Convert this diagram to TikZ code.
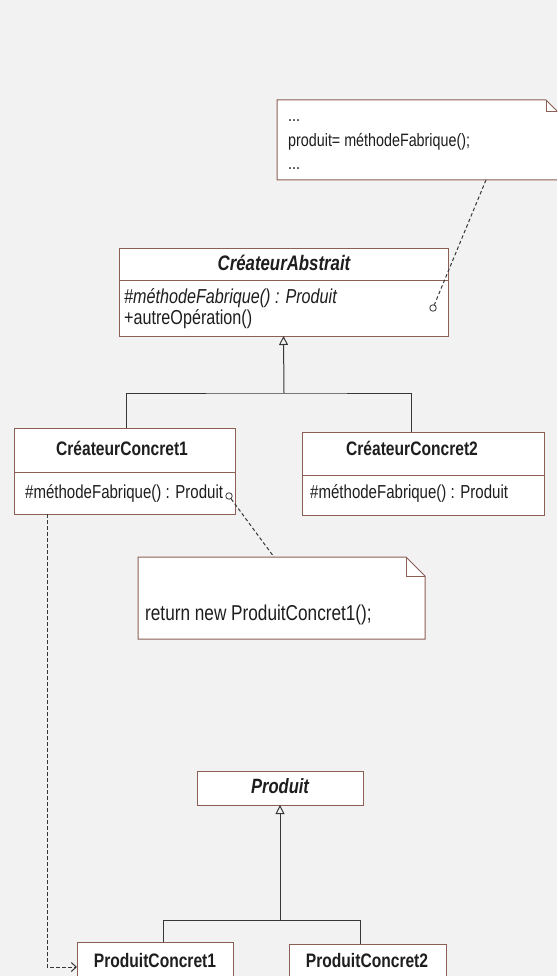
\documentclass[tikz,border=0pt]{standalone}
\usepackage{fontspec}
\setmainfont{Liberation Sans}[FakeStretch=0.8]
\usetikzlibrary{arrows.meta}
\definecolor{bgc}{RGB}{241,242,241}
\definecolor{boxc}{RGB}{140,95,85}
\definecolor{linec}{RGB}{55,55,55}
\definecolor{txtc}{RGB}{30,30,30}
\begin{document}
\begin{tikzpicture}[x=1pt,y=-1pt,
  box/.style={draw=boxc, fill=white, line width=1pt, anchor=north west, inner sep=0pt, outer sep=0pt},
  notebox/.style={draw=none, fill=none, anchor=north west, inner sep=0pt, outer sep=0pt},
  divline/.style={draw=boxc, line width=1pt},
  conn/.style={draw=linec, line width=1pt},
  dep/.style={draw=linec, line width=1pt, dash pattern=on 3.5pt off 2.5pt},
  anchorcirc/.style={draw=linec, line width=0.8pt, circle, inner sep=0pt, minimum size=6.5pt},
  ttl/.style={font=\fontsize{19.5}{21}\selectfont\bfseries, text=txtc, inner sep=0pt, anchor=base},
  mem/.style={font=\fontsize{18.8}{21}\selectfont, text=txtc, inner sep=0pt, anchor=base west},
  gen/.style={conn, -{Triangle[open, width=9pt, length=9pt, line width=1pt]}},
  ]
\useasboundingbox[fill=bgc] (0,0) rectangle (557,976);
\clip (0,0) rectangle (557,976);

% ---------- note 1 ----------
\node[notebox, minimum width=281pt, minimum height=80pt] (n1) at (277,100) {};
\draw[divline, fill=white] (n1.north west) -- ([xshift=-12pt]n1.north east) -- ([yshift=-12pt]n1.north east) -- (n1.south east) -- (n1.south west) -- cycle;
\draw[divline] ([xshift=-12pt]n1.north east) -- ([xshift=-12pt,yshift=-12pt]n1.north east) -- ([yshift=-12pt]n1.north east);
\node[mem, font=\fontsize{17.9}{20}\selectfont] (n1a) at (288,122) {...};
\node[mem, font=\fontsize{17.9}{20}\selectfont] (n1b) at (288,147) {produit= méthodeFabrique();};
\node[mem, font=\fontsize{17.9}{20}\selectfont] (n1c) at (288,170) {...};
\coordinate (n1foot) at (486,180);

% ---------- CreateurAbstrait ----------
\node[box, minimum width=329pt, minimum height=88pt] (ca) at (119,248) {};
\draw[divline] (119,280) -- (448,280);
\node[ttl, font=\fontsize{21}{23}\selectfont\bfseries\itshape] (cat) at (284,270) {CréateurAbstrait};
\node[mem, font=\fontsize{20.2}{22}\selectfont\itshape] (cam1) at (124,303) {\#méthodeFabrique() : Produit};
\node[mem, font=\fontsize{20.2}{22}\selectfont] (cam2) at (124,324) {+autreOpération()};
\node[anchorcirc] (c1) at (433,308) {};
\draw[dep] (n1foot) -- (c1);

% ---------- CreateurConcret1 ----------
\node[box, minimum width=221pt, minimum height=86pt] (cc1) at (14,428) {};
\draw[divline] (14,472) -- (235,472);
\node[ttl] (cc1t) at (122,455) {CréateurConcret1};
\node[mem] (cc1m) at (25,498) {\#méthodeFabrique() : Produit};
\node[anchorcirc] (c2) at (229,496) {};

% ---------- CreateurConcret2 ----------
\node[box, minimum width=242pt, minimum height=83pt] (cc2) at (302,432) {};
\draw[divline] (302,475) -- (544,475);
\node[ttl] (cc2t) at (412,455) {CréateurConcret2};
\node[mem] (cc2m) at (310,498) {\#méthodeFabrique() : Produit};

% generalisation tree 1
\coordinate (j1) at (284,393);
\draw[conn] ([xshift=112pt]cc1.north west) |- (j1) -| ([xshift=109pt]cc2.north west);
\draw[gen] (j1) -- (ca.south);

% ---------- note 2 ----------
\node[notebox, minimum width=287pt, minimum height=82pt] (n2) at (138,557) {};
\draw[divline, fill=white] (n2.north west) -- ([xshift=-19pt]n2.north east) -- ([yshift=-19pt]n2.north east) -- (n2.south east) -- (n2.south west) -- cycle;
\draw[divline] ([xshift=-19pt]n2.north east) -- ([xshift=-19pt,yshift=-19pt]n2.north east) -- ([yshift=-19pt]n2.north east);
\node[mem, font=\fontsize{21.5}{23}\selectfont] (n2t) at (145,620) {return new ProduitConcret1();};
\draw[dep] (c2) -- ([xshift=136pt]n2.north west);

% ---------- Produit ----------
\node[box, minimum width=166pt, minimum height=34pt] (pr) at (197,771) {};
\node[ttl, font=\fontsize{20.7}{22}\selectfont\bfseries\itshape] (prt) at (280,793) {Produit};

% ---------- ProduitConcret1/2 ----------
\node[box, minimum width=156pt, minimum height=50pt] (pc1) at (77,942) {};
\node[ttl] (pc1t) at (155,967) {ProduitConcret1};
\node[box, minimum width=157pt, minimum height=50pt] (pc2) at (289,944) {};
\node[ttl] (pc2t) at (367,967) {ProduitConcret2};

\coordinate (j2) at (280,920);
\draw[conn] ([xshift=86pt]pc1.north west) |- (j2) -| ([xshift=71pt]pc2.north west);
\draw[gen] (j2) -- (pr.south);

% dependency CC1 -> PC1
\draw[dep, -{Straight Barb[length=5pt, width=9pt, line width=1pt]}] ([xshift=33pt]cc1.south west) |- (pc1.west |- 0,967);

\end{tikzpicture}
\end{document}
